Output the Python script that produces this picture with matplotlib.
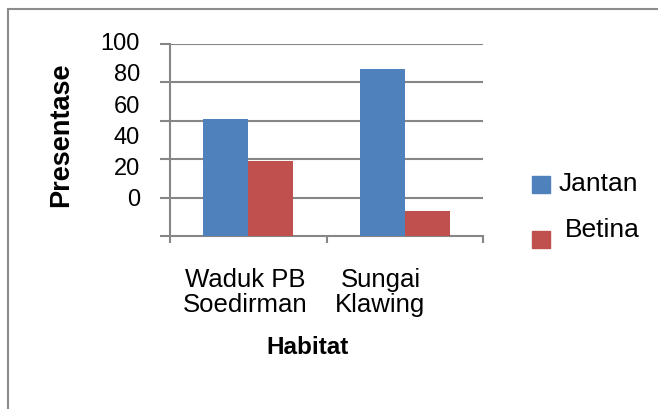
import matplotlib.pyplot as plt
from matplotlib.patches import Rectangle
from matplotlib.lines import Line2D

plt.rcParams['font.family'] = ['Liberation Sans', 'DejaVu Sans']

habitat = ['Waduk PB\nSoedirman', 'Sungai\nKlawing']
jantan = [61, 87]
betina = [39, 13]
y_labels = ['100', '80', '60', '40', '20', '0']

blue = '#4F81BD'
red = '#C0504D'
grey = '#868686'

W, H = 658, 409
fig = plt.figure(figsize=(W / 100, H / 100), dpi=100)
ax = fig.add_axes([170 / W, 1 - 236 / H, (483 - 170) / W, (236 - 44) / H])

x = list(range(len(habitat)))
bw = 0.2875
ax.bar([i - bw / 2 for i in x], jantan, bw, color=blue, zorder=3)
ax.bar([i + bw / 2 for i in x], betina, bw, color=red, zorder=3)

ax.set_xlim(-0.5, 1.5)
ax.set_ylim(0, 100)

# horizontal gridlines, the left axis ticks run into them
for v in [20, 40, 60, 80, 100]:
    ax.axhline(v, color=grey, lw=1.5, zorder=1)
ax.set_yticks([0, 20, 40, 60, 80, 100])
ax.set_yticklabels([])
ax.tick_params(axis='y', length=7, width=1.5, color=grey, direction='out')
ax.set_xticks([-0.5, 0.5, 1.5])
ax.set_xticklabels([])
ax.tick_params(axis='x', length=5, width=1.5, color=grey, direction='out')

for s in ['top', 'right']:
    ax.spines[s].set_visible(False)
for s in ['left', 'bottom']:
    ax.spines[s].set_color(grey)
    ax.spines[s].set_linewidth(1.5)

# value labels on the left sit a bit above their gridlines
label_pos = [100, 83.7, 67.4, 51.1, 34.8, 18.5]
for lab, yv in zip(y_labels, label_pos):
    ax.text(-0.5 - 30 / 156.5, yv, lab, ha='right', va='center',
            fontsize=17, color='black')

# category names under the axis
cat_x = [-0.02, 0.845]
for lab, xv in zip(habitat, cat_x):
    ax.text(xv, -29.5, lab, ha='center', va='center', fontsize=18.5,
            linespacing=1.05, color='black')

fig.text(307 / W, 1 - 347 / H, 'Habitat', ha='center', va='center',
         fontsize=17.5, fontweight='bold')
fig.text(61 / W, 1 - 135 / H, 'Presentase', ha='center', va='center',
         rotation=90, fontsize=19.5, fontweight='bold')

# legend
fig.patches.append(Rectangle((532 / W, 1 - 193 / H), 18 / W, 17 / H,
                             transform=fig.transFigure, color=blue))
fig.patches.append(Rectangle((532 / W, 1 - 248 / H), 18 / W, 17 / H,
                             transform=fig.transFigure, color=red))
fig.text(559 / W, 1 - 184 / H, 'Jantan', ha='left', va='center', fontsize=19)
fig.text(565 / W, 1 - 230 / H, 'Betina', ha='left', va='center', fontsize=19)

# chart frame, only the left and top edges show
fig.lines.append(Line2D([8 / W, 8 / W], [0, 1 - 9 / H], transform=fig.transFigure,
                        color='#8c8c8c', lw=1.5))
fig.lines.append(Line2D([8 / W, 1], [1 - 9 / H, 1 - 9 / H], transform=fig.transFigure,
                        color='#8c8c8c', lw=1.5))

fig.savefig('out.png', dpi=100)
